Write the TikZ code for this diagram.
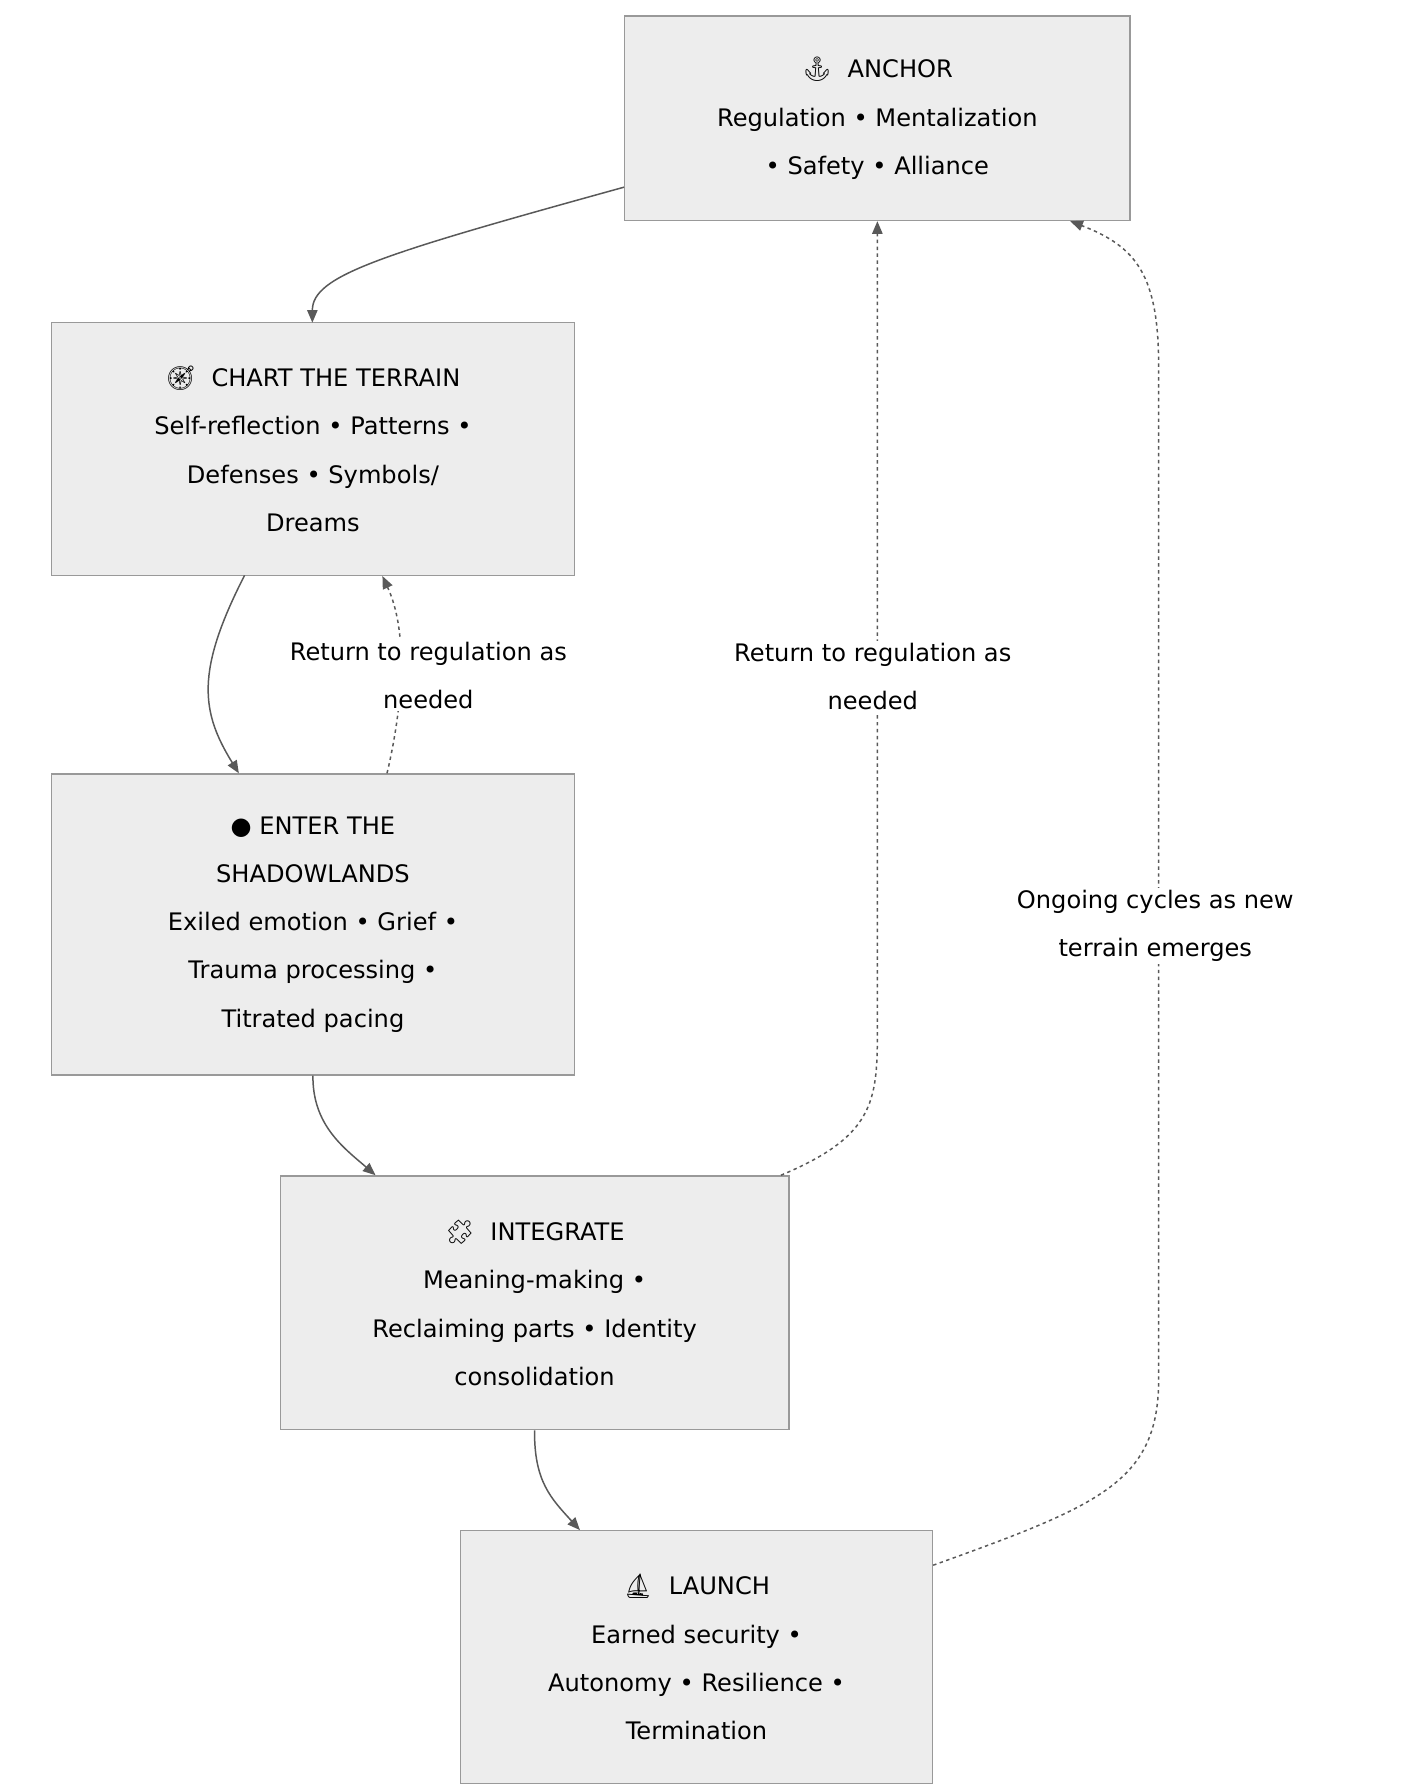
\documentclass[tikz,border=0pt]{standalone}
\usepackage{fontspec}
\setmainfont{DejaVu Sans}
\newfontfamily\emo{Noto Emoji}
\usetikzlibrary{arrows.meta}
\begin{document}
\begin{tikzpicture}[x=1pt,y=-1pt,
  box/.style={draw=black!40,fill=black!7,line width=1.2pt,align=center,font=\fontsize{21}{42}\selectfont,inner sep=0pt},
  conn/.style={draw=black!65,line width=1.3pt,-{Triangle[length=11pt,width=9pt]}},
  dconn/.style={conn,dash pattern=on 3pt off 3pt},
  lbl/.style={fill=white,align=center,font=\fontsize{21}{42}\selectfont,inner sep=2pt}]
\useasboundingbox (0,0) rectangle (1222,1557);
\node[box,minimum width=440pt,minimum height=178pt] (anchor) at (764,103) {{\emo ⚓}\ \ ANCHOR\\Regulation • Mentalization\\• Safety • Alliance};
\node[box,minimum width=455pt,minimum height=220pt] (chart) at (272.5,391) {{\emo 🧭}\ \ CHART THE TERRAIN\\Self-reflection • Patterns •\\Defenses • Symbols/\\Dreams};
\node[box,minimum width=455pt,minimum height=262pt] (enter) at (272.5,805) {● ENTER THE\\SHADOWLANDS\\Exiled emotion • Grief •\\Trauma processing •\\Titrated pacing};
\node[box,minimum width=443pt,minimum height=221pt] (integ) at (465.5,1134.5) {{\emo 🧩}\ \ INTEGRATE\\Meaning-making •\\Reclaiming parts • Identity\\consolidation};
\node[box,minimum width=411pt,minimum height=220pt] (launch) at (606.5,1443) {{\emo ⛵}\ \ LAUNCH\\Earned security •\\Autonomy • Resilience •\\Termination};
\coordinate (a1) at (anchor.west |- 0,163);
\coordinate (c1) at (272,281);
\draw[conn] (a1) .. controls (330,222) and (272,240) .. (c1);
\draw[conn] (213,501) .. controls (170,585) and (175,620) .. (enter.north -| 208,0);
\draw[dconn] (enter.north -| 337,0) .. controls (345,640) and (360,560) .. (chart.south -| 333,0);
\node[lbl] (l1) at (373,588) {Return to regulation as\\needed};
\draw[conn] (enter.south) .. controls (272,980) and (300,1000) .. (integ.north -| 327,0);
\draw[dconn] (integ.north -| 680,0) .. controls (760,990) and (764,960) .. (764,900) -- (anchor.south);
\node[lbl] (l2) at (760,589) {Return to regulation as\\needed};
\draw[conn] (integ.south) .. controls (465,1290) and (480,1305) .. (launch.north -| 505,0);
\draw[dconn] (launch.east |- 0,1363) .. controls (960,1310) and (1009,1290) .. (1009,1200) -- (1009,320) .. controls (1009,240) and (990,215) .. (anchor.south -| 932,0);
\node[lbl] (l3) at (1006,806) {Ongoing cycles as new\\terrain emerges};
\end{tikzpicture}
\end{document}
